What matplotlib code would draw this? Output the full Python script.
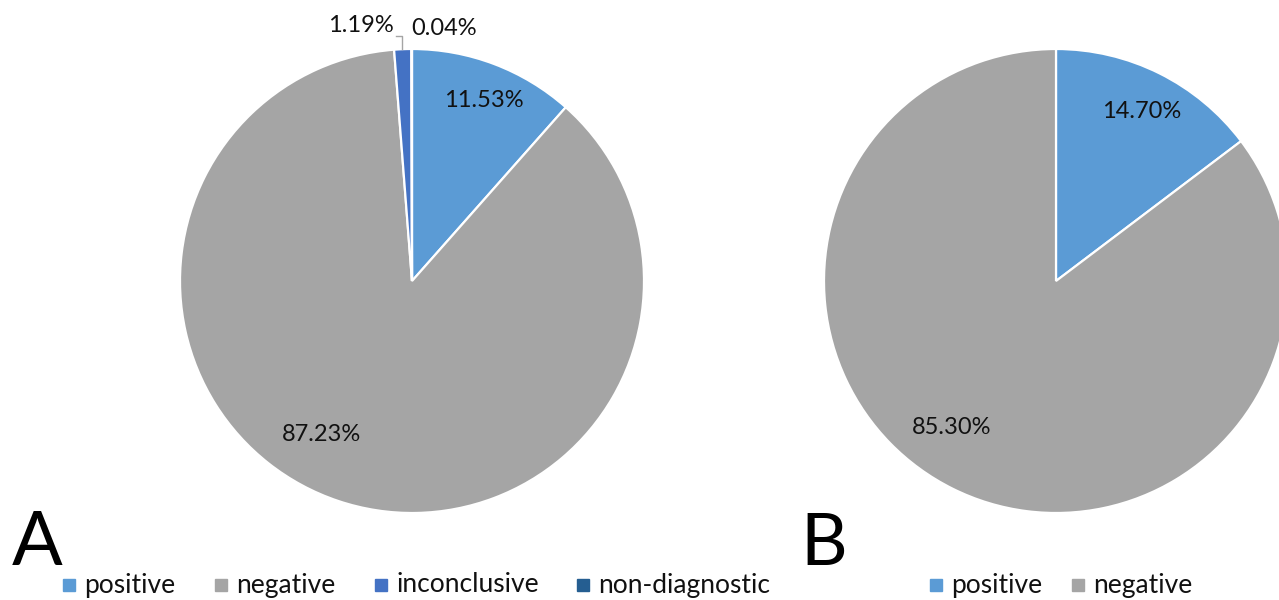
import matplotlib
matplotlib.use("Agg")
import matplotlib.pyplot as plt
from matplotlib.patches import Rectangle

plt.rcParams['font.family'] = ['Lato', 'DejaVu Sans']

# panel A
labels_a = ["positive", "negative", "inconclusive", "non-diagnostic"]
values_a = [11.53, 87.23, 1.19, 0.04]
colors_a = ["#5B9BD5", "#A5A5A5", "#4472C4", "#255E91"]
# label spots in pie units (radius = 1)
spots_a = [(0.31, 0.78), (-0.39, -0.66), (-0.22, 1.10), (0.14, 1.09)]

# panel B
labels_b = ["positive", "negative"]
values_b = [14.70, 85.30]
colors_b = ["#5B9BD5", "#A5A5A5"]
spots_b = [(0.37, 0.73), (-0.45, -0.63)]

W, H = 1279, 600
fig = plt.figure(figsize=(W / 100, H / 100), dpi=100)

def pie_axes(cx, cy, r):
    return fig.add_axes([(cx - r) / W, (H - cy - r) / H, 2 * r / W, 2 * r / H])

def draw_pie(ax, values, colors, spots):
    ax.pie(values, colors=colors, startangle=90, counterclock=False,
           radius=1, wedgeprops=dict(edgecolor="white", linewidth=1.6))
    for v, (x, y) in zip(values, spots):
        ax.text(x, y, f"{v:.2f}%", ha="center", va="center", fontsize=17,
                color="#111111", clip_on=False)
    ax.set_xlim(-1, 1)
    ax.set_ylim(-1, 1)
    ax.set_aspect("equal")
    ax.axis("off")

ax_a = pie_axes(412, 281, 232)
draw_pie(ax_a, values_a, colors_a, spots_a)
# leader line to the small inconclusive slice
ax_a.plot([-0.07, -0.045, -0.045], [1.055, 1.055, 1.0], color="#A5A5A5", lw=1,
          clip_on=False)

ax_b = pie_axes(1056, 281, 232)
draw_pie(ax_b, values_b, colors_b, spots_b)

# panel letters
fig.text(12 / W, 1 - 565 / H, "A", fontsize=54, ha="left", va="baseline")
fig.text(800 / W, 1 - 565 / H, "B", fontsize=52, ha="left", va="baseline")

def legend_row(labels, colors, x0, gaps):
    x = x0
    for lab, col, g in zip(labels, colors, gaps):
        fig.patches.append(Rectangle((x / W, 1 - 591 / H), 12 / W, 12 / H,
                                     transform=fig.transFigure, color=col))
        fig.text((x + 21) / W, 1 - 585 / H, lab, fontsize=19, ha="left",
                 va="center", color="#111111")
        x += g

legend_row(labels_a, colors_a, 63, [152, 160, 202, 0])
legend_row(labels_b, colors_b, 930, [142, 0])

fig.savefig("out.png", dpi=100)
